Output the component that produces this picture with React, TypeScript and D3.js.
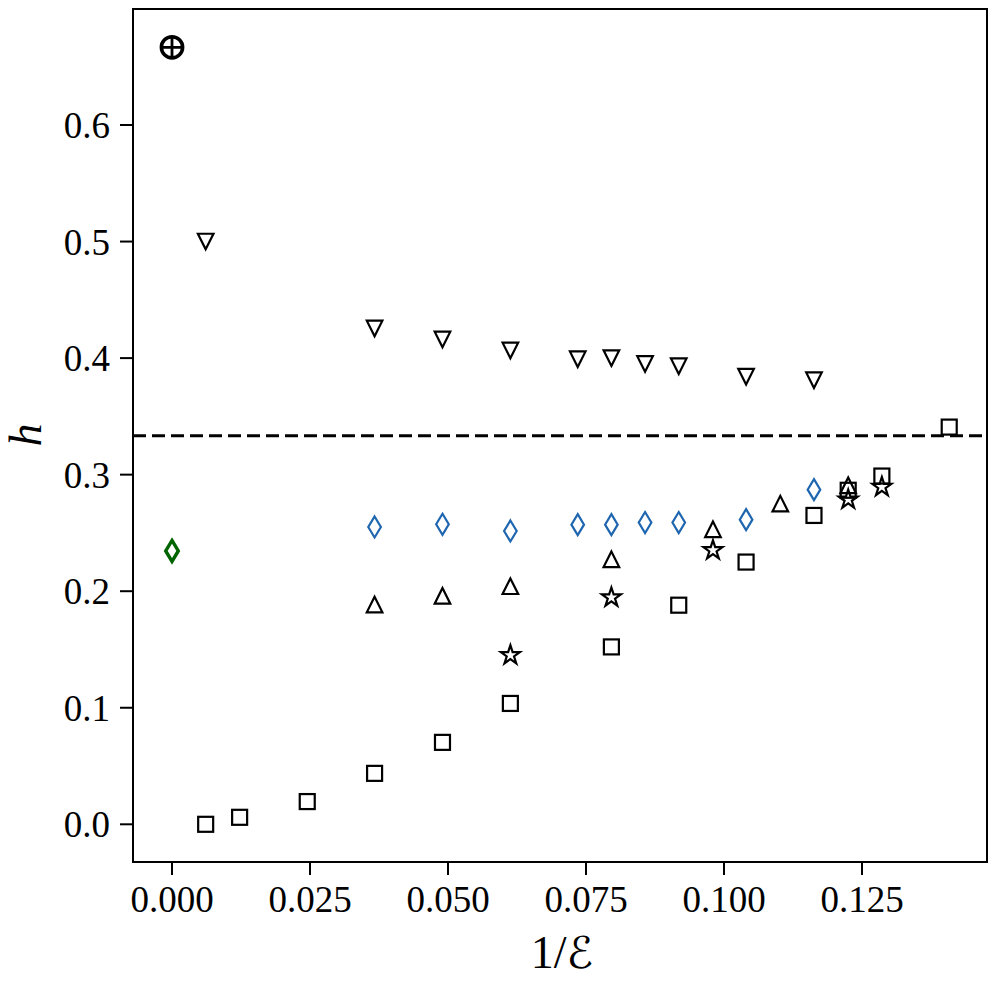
import React, { useEffect, useRef } from 'react';
import * as d3 from 'd3';

// values (x = 1/E, y = h)
const squareX = [0.0061, 0.01225, 0.0245, 0.0367, 0.049, 0.0613, 0.0796, 0.0918, 0.104, 0.1163, 0.1225, 0.1286, 0.1408];
const squareY = [0.0, 0.006, 0.0195, 0.0437, 0.0703, 0.1037, 0.1522, 0.188, 0.225, 0.265, 0.2866, 0.2988, 0.3408];

const triUpX = [0.0367, 0.049, 0.0613, 0.0796, 0.098, 0.1102, 0.1225];
const triUpY = [0.1886, 0.196, 0.2043, 0.2274, 0.2531, 0.2751, 0.2908];

const starX = [0.0613, 0.0796, 0.098, 0.1225, 0.1286];
const starY = [0.1451, 0.1946, 0.2351, 0.2786, 0.2894];

const triDownX = [0.0061, 0.0367, 0.049, 0.0613, 0.0735, 0.0796, 0.0857, 0.0918, 0.104, 0.1163];
const triDownY = [0.5, 0.4254, 0.416, 0.4065, 0.399, 0.4, 0.395, 0.393, 0.384, 0.381];

const blueDiamondX = [0.0367, 0.049, 0.0613, 0.0735, 0.0796, 0.0857, 0.0918, 0.104, 0.1163];
const blueDiamondY = [0.2551, 0.2574, 0.2517, 0.2571, 0.2571, 0.2589, 0.2589, 0.2614, 0.2871];

const greenDiamondX = [0.0];
const greenDiamondY = [0.2345];

const oplusX = [0.0];
const oplusY = [2 / 3];

const dashedY = 1 / 3;

const xTicks = [0, 0.025, 0.05, 0.075, 0.1, 0.125];
const yTicks = [0, 0.1, 0.2, 0.3, 0.4, 0.5, 0.6];

const zip = (xs: number[], ys: number[]) => xs.map((x, i) => ({ x, y: ys[i] }));

export default function App() {
  const ref = useRef<SVGSVGElement>(null);

  useEffect(() => {
    document.body.style.margin = '0';
    const svg = d3.select(ref.current);
    svg.selectAll('*').remove();

    const left = 133, right = 987, top = 9, bottom = 862;
    const x = d3.scaleLinear().domain([0, 0.125]).range([172, 862]);
    const y = d3.scaleLinear().domain([0, 0.6]).range([824.3, 125]);
    const font = '"Liberation Serif", "Times New Roman", serif';

    // dashed reference line
    svg.append('line')
      .attr('x1', left).attr('x2', right)
      .attr('y1', y(dashedY)).attr('y2', y(dashedY))
      .attr('stroke', 'black').attr('stroke-width', 3)
      .attr('stroke-dasharray', '13,6');

    const g = svg.append('g');

    const sq = 7.5;
    g.selectAll('.sq').data(zip(squareX, squareY)).join('rect')
      .attr('x', d => x(d.x) - sq).attr('y', d => y(d.y) - sq)
      .attr('width', sq * 2).attr('height', sq * 2)
      .attr('fill', 'none').attr('stroke', 'black').attr('stroke-width', 2.2);

    const t = 7.8;
    const triUp = `M0,${-t}L${t},${t}L${-t},${t}Z`;
    const triDown = `M0,${t}L${t},${-t}L${-t},${-t}Z`;
    g.selectAll('.tu').data(zip(triUpX, triUpY)).join('path')
      .attr('d', triUp)
      .attr('transform', d => `translate(${x(d.x)},${y(d.y)})`)
      .attr('fill', 'none').attr('stroke', 'black').attr('stroke-width', 2.2).attr('stroke-linejoin', 'miter');
    g.selectAll('.td').data(zip(triDownX, triDownY)).join('path')
      .attr('d', triDown)
      .attr('transform', d => `translate(${x(d.x)},${y(d.y)})`)
      .attr('fill', 'none').attr('stroke', 'black').attr('stroke-width', 2.2);

    // 5-point star
    const R = 10, r = R * 0.381966;
    const starPts = d3.range(10).map(i => {
      const a = (i * Math.PI) / 5;
      const rr = i % 2 === 0 ? R : r;
      return [rr * Math.sin(a), -rr * Math.cos(a)] as [number, number];
    });
    const star = d3.line()(starPts) + 'Z';
    g.selectAll('.st').data(zip(starX, starY)).join('path')
      .attr('d', star)
      .attr('transform', d => `translate(${x(d.x)},${y(d.y)})`)
      .attr('fill', 'none').attr('stroke', 'black').attr('stroke-width', 2.2).attr('stroke-linejoin', 'miter');

    const dh = 10.5, dw = 6.3;
    const diamond = `M0,${-dh}L${dw},0L0,${dh}L${-dw},0Z`;
    g.selectAll('.bd').data(zip(blueDiamondX, blueDiamondY)).join('path')
      .attr('d', diamond)
      .attr('transform', d => `translate(${x(d.x)},${y(d.y)})`)
      .attr('fill', 'none').attr('stroke', '#1f66b0').attr('stroke-width', 2.2);
    g.selectAll('.gd').data(zip(greenDiamondX, greenDiamondY)).join('path')
      .attr('d', diamond)
      .attr('transform', d => `translate(${x(d.x)},${y(d.y)})`)
      .attr('fill', 'none').attr('stroke', '#006400').attr('stroke-width', 3.4);

    const op = g.selectAll('.op').data(zip(oplusX, oplusY)).join('g')
      .attr('transform', d => `translate(${x(d.x)},${y(d.y)})`);
    op.append('circle').attr('r', 10.6).attr('fill', 'none').attr('stroke', 'black').attr('stroke-width', 3.6);
    op.append('path').attr('d', 'M-10.6,0H10.6M0,-10.6V10.6').attr('stroke', 'black').attr('stroke-width', 2.8);

    // frame
    svg.append('rect')
      .attr('x', left).attr('y', top)
      .attr('width', right - left).attr('height', bottom - top)
      .attr('fill', 'none').attr('stroke', 'black').attr('stroke-width', 2);

    // x ticks
    const xt = svg.append('g');
    xt.selectAll('line').data(xTicks).join('line')
      .attr('x1', d => x(d)).attr('x2', d => x(d))
      .attr('y1', bottom).attr('y2', bottom + 13)
      .attr('stroke', 'black').attr('stroke-width', 2);
    xt.selectAll('text').data(xTicks).join('text')
      .attr('x', d => x(d)).attr('y', 912)
      .attr('text-anchor', 'middle')
      .style('font-family', font).style('font-size', '37px')
      .text(d => d3.format('.3f')(d));

    // y ticks
    const yt = svg.append('g');
    yt.selectAll('line').data(yTicks).join('line')
      .attr('x1', left - 13).attr('x2', left)
      .attr('y1', d => y(d)).attr('y2', d => y(d))
      .attr('stroke', 'black').attr('stroke-width', 2);
    yt.selectAll('text').data(yTicks).join('text')
      .attr('x', 110).attr('y', d => y(d))
      .attr('dy', '0.35em')
      .attr('text-anchor', 'end')
      .style('font-family', font).style('font-size', '37px')
      .text(d => d3.format('.1f')(d));

    // axis labels
    svg.append('text')
      .attr('transform', 'translate(41,435) rotate(-90)')
      .attr('text-anchor', 'middle')
      .style('font-family', font).style('font-size', '46px').style('font-style', 'italic')
      .text('h');

    const xl = svg.append('text')
      .attr('x', 562).attr('y', 968)
      .attr('text-anchor', 'middle')
      .style('font-family', font).style('font-size', '46px');
    xl.append('tspan').text('1/');
    xl.append('tspan').style('font-family', '"DejaVu Serif", "DejaVu Sans", serif').style('font-size', '44px').text('ℰ');
  }, []);

  return <svg ref={ref} width={996} height={987} style={{ display: 'block', background: 'white' }} />;
}
